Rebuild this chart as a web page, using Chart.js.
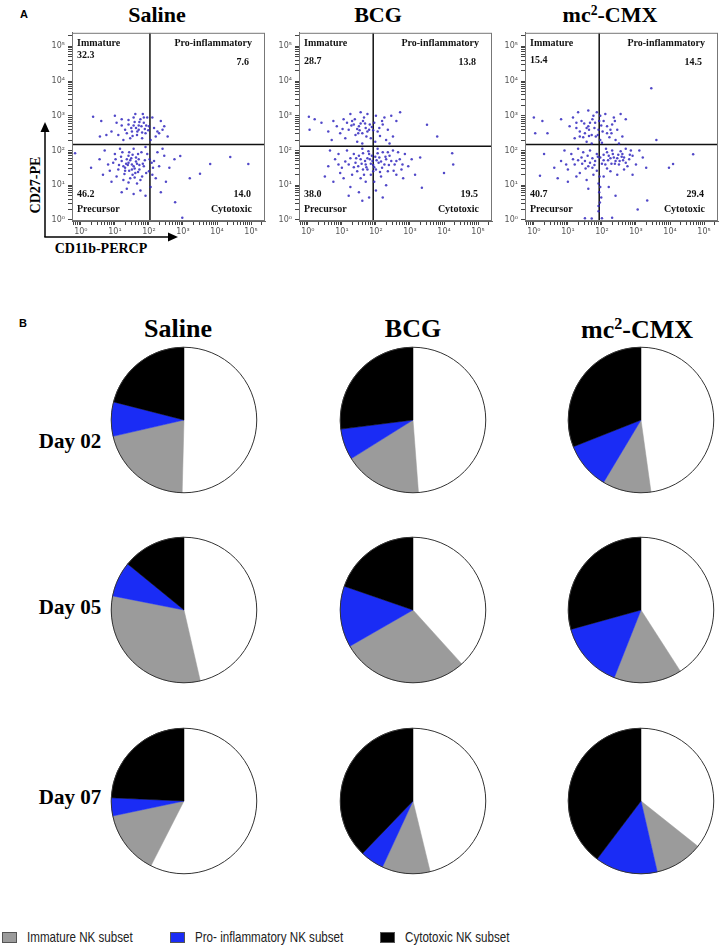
<!DOCTYPE html>
<html>
<head>
<meta charset="utf-8">
<script src="https://cdn.jsdelivr.net/npm/chart.js"></script>
<style>
body { margin: 0; background: #fff; width: 724px; height: 949px; position: relative; overflow: hidden; }
canvas { position: absolute; }
.t { position: absolute; transform: translate(-50%, -50%); white-space: nowrap; font-family: "Liberation Serif", "Times New Roman", serif; font-weight: bold; color: #000; }
.t sup { font-size: 62%; vertical-align: 0.55em; line-height: 0; }
.panel { position: absolute; transform: translate(-50%, -50%); font: bold 11px "Liberation Sans", Arial, sans-serif; }
.leg { position: absolute; top: 929px; display: flex; align-items: center; font: 14.5px "Liberation Sans", Arial, sans-serif; color: #222; white-space: nowrap; }
.leg span { display: inline-block; transform: scaleX(0.8); transform-origin: left center; }
.sw { width: 13px; height: 9px; border: 1px solid #555; margin-right: 10px; }
</style>
</head>
<body>

<div class="panel" style="left:24px;top:14px">A</div>
<div class="panel" style="left:23px;top:323px">B</div>

<div class="t" style="left:157px;top:15px;font-size:22px">Saline</div>
<div class="t" style="left:378px;top:15px;font-size:22px">BCG</div>
<div class="t" style="left:610px;top:15px;font-size:22px">mc<sup>2</sup>-CMX</div>

<svg width="724" height="300" style="position:absolute;left:0;top:0">
  <line x1="45" y1="237" x2="45" y2="130" stroke="#000" stroke-width="1.5"/>
  <polygon points="45,122 40.5,132 49.5,132" fill="#000"/>
  <line x1="44.3" y1="237" x2="169" y2="237" stroke="#000" stroke-width="1.5"/>
  <polygon points="178,237 168,232.5 168,241.5" fill="#000"/>
</svg>
<div class="t" style="left:36px;top:185px;font-size:14px;transform:translate(-50%,-50%) rotate(-90deg)">CD27-PE</div>
<div class="t" style="left:101px;top:249px;font-size:14px">CD11b-PERCP</div>

<div class="t" style="left:178px;top:329px;font-size:26px">Saline</div>
<div class="t" style="left:413px;top:329px;font-size:26px">BCG</div>
<div class="t" style="left:637px;top:330px;font-size:26px">mc<sup>2</sup>-CMX</div>

<div class="t" style="left:70px;top:441px;font-size:21px">Day 02</div>
<div class="t" style="left:70px;top:607px;font-size:21px">Day 05</div>
<div class="t" style="left:70px;top:797px;font-size:21px">Day 07</div>

<div class="leg" style="left:2px"><div class="sw" style="background:#9b9b9b"></div><span>Immature NK subset</span></div>
<div class="leg" style="left:170px"><div class="sw" style="background:#1a2cf5"></div><span>Pro- inflammatory NK subset</span></div>
<div class="leg" style="left:380px"><div class="sw" style="background:#000"></div><span>Cytotoxic NK subset</span></div>

<script>
// panel A: flow plots, axes in log10 units
const QUADRANTS = ['Immature', 'Pro-inflammatory', 'Precursor', 'Cytotoxic'];
const DECADES = [0, 1, 2, 3, 4, 5];
const SUP = ['\u2070', '\u00b9', '\u00b2', '\u00b3', '\u2074', '\u2075'];

const SALINE_QUAD = [32.3, 7.6, 46.2, 14.0];
const BCG_QUAD = [28.7, 13.8, 38.0, 19.5];
const CMX_QUAD = [15.4, 14.5, 40.7, 29.4];

const SALINE_GATE = [2.03, 2.17];
const BCG_GATE = [1.92, 2.12];
const CMX_GATE = [1.92, 2.17];

const SALINE_DOTS = [
  [1.2,2.9],[1.4,2.75],[1.55,2.95],[1.7,2.6],[1.85,2.8],[1.65,2.45],[1.5,2.55],[1.9,2.5],[2.0,2.7],[1.75,2.9],
  [1.3,2.6],[1.1,2.45],[1.6,3.05],[1.95,2.95],[2.15,2.65],[2.3,2.5],[2.45,2.7],[2.2,2.4],[1.45,2.35],[1.8,2.35],
  [1.05,2.8],[0.9,2.55],[1.25,2.3],[2.05,2.3],[1.7,2.72],[1.58,2.82],[1.88,2.62],[1.35,2.5],[2.35,2.85],[2.55,2.4],
  [0.6,2.85],[0.75,2.45],[1.0,3.0],[1.82,3.05],[2.1,2.95],
  [1.62,2.65],[1.72,2.82],[1.55,2.72],[1.8,2.52],[1.48,2.65],[1.92,2.72],[1.66,2.55],[1.78,2.7],[1.4,2.88],[1.98,2.58],
  [1.52,2.42],[2.25,2.55],[1.2,2.72],[1.85,2.95],[2.4,2.6],
  [1.5,1.6],[1.3,1.5],[1.7,1.75],[1.4,1.85],[1.6,1.35],[1.2,1.7],[1.85,1.55],[1.95,1.9],[1.1,1.45],[1.45,1.2],
  [1.65,1.05],[1.25,1.15],[1.8,1.25],[2.0,1.4],[2.15,1.7],[2.3,1.55],[2.45,1.85],[2.2,1.2],[2.6,1.5],[2.75,1.75],
  [1.0,1.9],[0.8,1.6],[0.65,1.3],[0.9,1.1],[1.35,0.9],[1.55,0.75],[1.75,0.85],[2.05,0.95],[1.15,2.05],[1.55,2.05],
  [1.9,2.1],[2.4,2.05],[1.4,1.65],[1.58,1.48],[1.62,1.68],[1.48,1.78],[1.33,1.62],[1.72,1.45],[1.52,1.3],[1.28,1.32],
  [1.78,1.95],[2.08,1.65],[2.25,1.95],[0.55,1.75],[0.7,2.0],[1.05,1.25],[1.9,0.7],[2.5,1.1],[2.35,0.8],[1.2,0.8],
  [0.95,1.65],[1.68,1.9],[1.42,1.42],[1.88,1.72],[2.12,1.5],
  [1.45,1.72],[1.55,1.55],[1.38,1.58],[1.65,1.62],[1.5,1.45],[1.35,1.75],[1.62,1.8],[1.72,1.58],[1.25,1.55],[1.42,1.95],
  [1.18,1.82],[1.82,1.62],[1.52,1.88],[1.3,1.42],[1.68,1.38],[1.58,1.22],[1.12,1.58],[1.02,1.75],[1.92,1.35],[2.02,1.75],
  [1.4,1.08],[1.75,1.15],[2.1,1.3],[0.85,1.42],[1.22,1.95],
  [3.8,1.61],[4.39,1.81],[4.92,1.61],[2.92,1.84],[3.5,1.33],[2.77,0.51],[-0.17,1.92],[0.36,2.97],[0.56,2.4],[2.98,0.06],
  [3.2,1.2],[0.3,1.5]
];
const BCG_DOTS = [
  [1.3,2.85],[1.5,2.7],[1.65,2.95],[1.8,2.6],[1.95,2.8],[1.6,2.5],[1.4,2.45],[2.05,2.55],[2.2,2.75],[1.75,3.05],
  [1.2,2.6],[1.05,2.9],[1.55,3.1],[2.0,3.0],[2.35,2.6],[2.5,2.4],[2.3,2.3],[1.85,2.35],[1.45,2.25],[1.1,2.35],
  [0.85,2.7],[0.6,2.55],[0.4,2.8],[0.2,2.9],[0.05,2.6],[0.7,2.3],[1.68,2.78],[1.88,2.68],[1.52,2.58],[2.12,2.42],
  [2.6,2.85],[2.45,3.0],[1.25,3.05],[1.98,2.25],[2.25,2.95],[0.95,2.5],[1.35,2.75],[1.72,2.4],[2.4,2.2],[1.6,2.2],
  [1.55,2.78],[1.7,2.65],[1.45,2.62],[1.62,2.85],[1.82,2.75],[1.38,2.9],[1.75,2.55],[1.92,2.58],[1.28,2.72],[2.1,2.65],
  [1.48,2.5],[1.15,2.8],[2.18,2.85],[1.02,2.62],[0.75,2.85],
  [1.9,1.7],[1.7,1.6],[2.1,1.8],[1.8,1.9],[2.0,1.45],[1.55,1.75],[2.25,1.6],[2.4,1.85],[1.45,1.4],[1.35,1.9],
  [1.2,1.6],[1.0,1.5],[0.8,1.75],[0.6,1.55],[0.5,1.25],[0.75,1.1],[1.05,1.2],[1.25,0.95],[1.5,0.8],[1.7,1.1],
  [1.85,1.3],[2.15,1.25],[2.35,1.4],[2.55,1.6],[2.7,1.75],[2.85,1.9],[2.95,1.55],[3.05,1.75],[2.6,1.3],[2.8,1.2],
  [2.3,1.0],[2.0,0.85],[1.8,0.65],[1.6,0.55],[1.15,2.0],[1.6,2.05],[2.05,2.05],[2.5,2.0],[1.92,1.58],[1.98,1.82],
  [1.82,1.75],[2.08,1.65],[1.75,1.45],[1.62,1.92],[2.2,1.95],[2.45,1.7],[1.4,1.65],[1.3,1.3],[0.9,1.9],[0.95,1.35],
  [1.55,1.2],[2.65,1.95],[2.75,1.45],[1.2,0.7],[1.95,1.1],[2.2,0.65],[0.65,2.0],[1.48,1.55],[2.3,1.75],[2.52,1.42],
  [1.85,1.62],[2.02,1.72],[1.75,1.78],[1.95,1.52],[2.15,1.68],[1.68,1.7],[1.88,1.85],[2.28,1.82],[1.58,1.62],[2.05,1.92],
  [1.72,1.52],[2.18,1.5],[1.5,1.85],[2.38,1.58],[1.62,1.45],[1.92,1.4],[2.12,1.38],[1.42,1.78],[2.35,1.95],[1.78,1.98],
  [1.25,1.78],[1.1,1.68],[2.6,1.7],[2.78,1.6],[1.35,1.52],[0.9,1.6],[1.65,1.3],
  [3.5,2.74],[3.8,2.4],[4.24,1.92],[4.27,1.6],[4.0,1.35],[3.35,0.93],[2.71,3.1],[0.03,2.97],[3.3,1.8],[3.15,1.3]
];
const CMX_DOTS = [
  [1.4,2.85],[1.6,2.7],[1.75,3.0],[1.9,2.6],[2.05,2.85],[1.7,2.45],[1.5,2.5],[2.15,2.5],[2.3,2.75],[1.85,3.1],
  [1.25,2.65],[1.15,2.95],[1.6,3.15],[2.1,3.05],[2.45,2.6],[2.6,2.4],[2.4,2.3],[1.95,2.3],[1.55,2.25],[1.2,2.35],
  [1.35,2.55],[1.8,2.8],[1.98,2.72],[1.62,2.6],[2.22,2.38],[2.7,2.9],[2.55,3.05],[1.3,3.1],[2.0,2.22],[2.35,2.95],
  [1.05,2.7],[1.45,2.38],[1.82,2.4],[2.5,2.2],[1.7,2.2],[2.25,2.6],[0.0,2.95],[0.25,2.85],[0.4,2.5],[0.8,2.9],
  [1.65,2.8],[1.78,2.65],[1.92,2.85],[1.55,2.65],[2.02,2.55],[1.72,2.9],[1.88,2.45],[2.15,2.7],[1.48,2.78],[1.62,2.42],
  [2.28,2.5],[1.35,2.4],[1.95,3.0],[2.38,2.85],[1.25,2.8],
  [1.95,1.8],[2.2,1.85],[2.4,1.7],[2.6,1.9],[2.8,1.75],[3.0,1.6],[2.3,2.0],[2.5,1.6],[2.7,2.05],[2.1,1.6],
  [1.8,1.7],[1.6,1.55],[1.4,1.8],[1.2,1.6],[1.0,1.45],[0.8,1.7],[0.6,1.5],[0.7,1.2],[1.1,1.9],[1.35,1.35],
  [1.55,1.15],[1.75,1.3],[1.9,1.05],[1.92,0.8],[1.94,0.5],[1.9,0.25],[2.0,0.05],[1.7,0.04],[2.3,0.06],[1.5,0.05],
  [2.05,1.25],[2.25,1.4],[2.45,1.3],[2.65,1.45],[2.9,1.3],[3.2,1.8],[3.3,1.5],[2.85,2.0],[2.55,1.98],[1.65,2.0],
  [1.3,2.05],[0.9,2.0],[2.15,1.95],[2.35,1.8],[2.05,1.72],[1.85,1.9],[2.62,1.72],[2.75,1.55],[1.5,1.7],[1.25,1.25],
  [1.6,0.9],[2.2,0.95],[2.4,0.7],[1.0,1.1],[2.9,1.85],[3.1,2.0],[2.48,1.88],[2.28,1.62],[1.72,1.5],[1.45,1.95],
  [2.05,1.88],[2.18,1.72],[2.32,1.9],[2.45,1.78],[2.58,1.82],[2.7,1.65],[2.12,2.05],[2.38,1.62],[2.52,1.7],[2.0,1.62],
  [2.25,1.78],[2.65,1.8],[2.82,1.88],[1.88,1.82],[1.72,1.78],[1.58,1.85],[1.65,1.65],[1.42,1.62],[1.52,1.48],[1.3,1.72],
  [1.78,1.58],[1.15,1.75],[0.95,1.6],[1.85,1.42],[2.15,1.48],[1.93,1.25],[1.95,0.95],[1.98,0.65],[1.9,0.4],
  [3.45,3.79],[4.68,1.89],[4.09,1.61],[3.97,1.5],[3.33,0.56],[3.05,0.3],[0.18,1.27],[0.04,2.5],[3.6,2.3],[0.3,1.9]
];

// panel B: pie slices, order = precursor, immature, pro-inflammatory, cytotoxic
const SUBSETS = ['Precursor NK subset', 'Immature NK subset', 'Pro- inflammatory NK subset', 'Cytotoxic NK subset'];
const GROUPS = ['Saline', 'BCG', 'mc²-CMX'];
const DAYS = ['Day 02', 'Day 05', 'Day 07'];
const SALINE_PIES = [[50.4, 21.0, 7.6, 21.0], [46.4, 31.7, 7.8, 14.1], [57.5, 14.2, 4.0, 24.3]];
const BCG_PIES = [[48.8, 17.3, 6.9, 27.0], [38.3, 28.4, 13.6, 19.7], [46.2, 10.7, 5.3, 37.8]];
const CMX_PIES = [[47.8, 10.8, 10.4, 31.0], [40.9, 15.1, 14.7, 29.3], [35.7, 10.7, 13.9, 39.7]];

const X_MIN = -0.26, X_MAX = 5.41, Y_MIN = -0.03, Y_MAX = 5.39;
const DOT = 'rgba(50,40,190,0.85)';
const PIE_COLORS = ['#ffffff', '#9b9b9b', '#1a2cf5', '#000000'];

function logTicks(scale) {
  const out = [];
  for (let d = -1; d <= 5; d++) {
    for (let k = 1; k <= 9; k++) {
      const v = d + Math.log10(k);
      if (v >= scale.min && v <= scale.max) out.push({ value: v });
    }
  }
  scale.ticks = out;
}

function decadeLabel(v) {
  const r = Math.round(v);
  if (Math.abs(v - r) > 1e-6 || !DECADES.includes(r)) return '';
  return '10' + SUP[r];
}

const quadText = {
  id: 'quadText',
  afterDraw(chart, args, opts) {
    const { ctx, chartArea: a } = chart;
    const v = opts.values;
    ctx.save();
    ctx.strokeStyle = '#777';
    ctx.lineWidth = 1;
    ctx.strokeRect(a.left + 0.5, a.top + 0.5, a.width - 1, a.height - 1);
    ctx.fillStyle = '#111';
    ctx.font = 'bold 10px "Liberation Serif", "Times New Roman", serif';
    ctx.textBaseline = 'middle';
    ctx.textAlign = 'left';
    ctx.fillText(QUADRANTS[0], a.left + 5, a.top + 11);
    ctx.fillText(v[0].toFixed(1), a.left + 5, a.top + opts.numY);
    ctx.fillText(v[2].toFixed(1), a.left + 5, a.bottom - 27);
    ctx.fillText(QUADRANTS[2], a.left + 5, a.bottom - 12);
    ctx.textAlign = 'right';
    ctx.fillText(QUADRANTS[1], a.right - 13, a.top + 11);
    ctx.fillText(v[1].toFixed(1), a.right - 16, a.top + 30);
    ctx.fillText(v[3].toFixed(1), a.right - 14, a.bottom - 27);
    ctx.fillText(QUADRANTS[3], a.right - 13, a.bottom - 12);
    ctx.restore();
  }
};

function flowPlot(left, dots, gate, quad, numY) {
  const c = document.createElement('canvas');
  c.width = 229; c.height = 216;
  c.style.left = left + 'px'; c.style.top = '25px';
  document.body.appendChild(c);
  const line = { showLine: true, borderColor: '#111', borderWidth: 1.5, pointRadius: 0 };
  new Chart(c, {
    type: 'scatter',
    data: {
      datasets: [
        { data: dots.map(p => ({ x: p[0], y: p[1] })), pointRadius: 1.25, pointBorderWidth: 0, backgroundColor: DOT },
        Object.assign({ data: [{ x: gate[0], y: Y_MIN }, { x: gate[0], y: Y_MAX }] }, line),
        Object.assign({ data: [{ x: X_MIN, y: gate[1] }, { x: X_MAX, y: gate[1] }] }, line)
      ]
    },
    options: {
      responsive: false,
      animation: false,
      events: [],
      layout: { padding: { top: 4, right: 4, left: 0, bottom: 0 } },
      plugins: { legend: { display: false }, tooltip: { enabled: false }, quadText: { values: quad, numY: numY } },
      scales: {
        x: {
          type: 'linear', min: X_MIN, max: X_MAX,
          afterBuildTicks: logTicks,
          afterFit: s => { s.height = 20; },
          grid: { drawOnChartArea: false, drawTicks: true, tickLength: 4, color: '#444' },
          border: { display: true, color: '#666' },
          ticks: { autoSkip: false, maxRotation: 0, padding: 2, color: '#555', font: { size: 8, family: 'DejaVu Sans' }, callback: decadeLabel }
        },
        y: {
          type: 'linear', min: Y_MIN, max: Y_MAX,
          afterBuildTicks: logTicks,
          afterFit: s => { s.width = 32; },
          grid: { drawOnChartArea: false, drawTicks: true, tickLength: 4, color: '#444' },
          border: { display: true, color: '#666' },
          ticks: { autoSkip: false, padding: 3, color: '#555', font: { size: 8, family: 'DejaVu Sans' }, callback: decadeLabel }
        }
      }
    },
    plugins: [quadText]
  });
}

flowPlot(40, SALINE_DOTS, SALINE_GATE, SALINE_QUAD, 23);
flowPlot(267, BCG_DOTS, BCG_GATE, BCG_QUAD, 29);
flowPlot(493, CMX_DOTS, CMX_GATE, CMX_QUAD, 28);

const outline = {
  id: 'outline',
  afterDatasetsDraw(chart) {
    const arc = chart.getDatasetMeta(0).data[0];
    const ctx = chart.ctx;
    ctx.save();
    ctx.beginPath();
    ctx.arc(arc.x, arc.y, arc.outerRadius, 0, Math.PI * 2);
    ctx.strokeStyle = '#333';
    ctx.lineWidth = 1;
    ctx.stroke();
    ctx.restore();
  }
};

const PIE_X = [184, 413, 641];
const PIE_Y = [420, 610, 801];

function pie(cx, cy, values) {
  const c = document.createElement('canvas');
  c.width = 150; c.height = 150;
  c.style.left = (cx - 75) + 'px'; c.style.top = (cy - 75) + 'px';
  document.body.appendChild(c);
  new Chart(c, {
    type: 'pie',
    data: { labels: SUBSETS, datasets: [{ data: values, backgroundColor: PIE_COLORS, borderColor: PIE_COLORS, borderWidth: 0.5 }] },
    options: {
      responsive: false,
      animation: false,
      events: [],
      layout: { padding: 2 },
      plugins: { legend: { display: false }, tooltip: { enabled: false } }
    },
    plugins: [outline]
  });
}

[SALINE_PIES, BCG_PIES, CMX_PIES].forEach((group, g) => {
  DAYS.forEach((day, d) => pie(PIE_X[g], PIE_Y[d], group[d]));
});
</script>
</body>
</html>
